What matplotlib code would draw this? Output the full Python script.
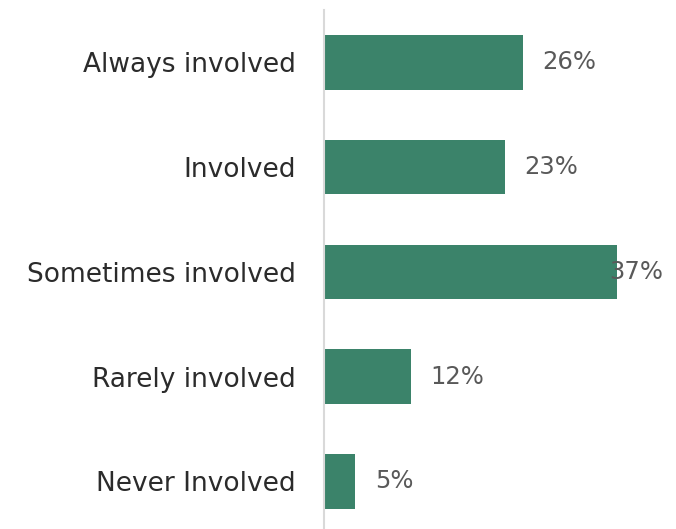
import matplotlib.pyplot as plt

# kategorie i wartości
kategorie = ['Always involved', 'Involved', 'Sometimes involved', 'Rarely involved', 'Never Involved']
wartosci = [25.3, 23.0, 37.2, 11.1, 4.0]
etykiety = ['26%', '23%', '37%', '12%', '5%']

kolor = '#3B836A'

fig = plt.figure(figsize=(6.76, 5.29), dpi=100)
ax = fig.add_axes([0.479, 0.0, 0.463, 0.981])

y = list(range(len(kategorie)))
ax.barh(y, wartosci, height=0.52, color=kolor)

ax.set_ylim(4.454, -0.5)
ax.set_xlim(0, 39.7)

# etykiety danych
for i in range(len(y)):
    dx = 14 if wartosci[i] < max(wartosci) else -6
    ax.annotate(etykiety[i], (wartosci[i], y[i]), xytext=(dx, 0), textcoords='offset points',
                va='center', ha='left', fontsize=17.5, color='#595959')

ax.set_yticks(y)
ax.set_yticklabels(kategorie, fontsize=19, color='#2b2b2b')
ax.tick_params(axis='y', length=0, pad=20)
ax.set_xticks([])

for s in ['top', 'right', 'bottom']:
    ax.spines[s].set_visible(False)
ax.spines['left'].set_color('#D9D9D9')
ax.spines['left'].set_linewidth(1.5)

fig.savefig('out.png', dpi=100)
